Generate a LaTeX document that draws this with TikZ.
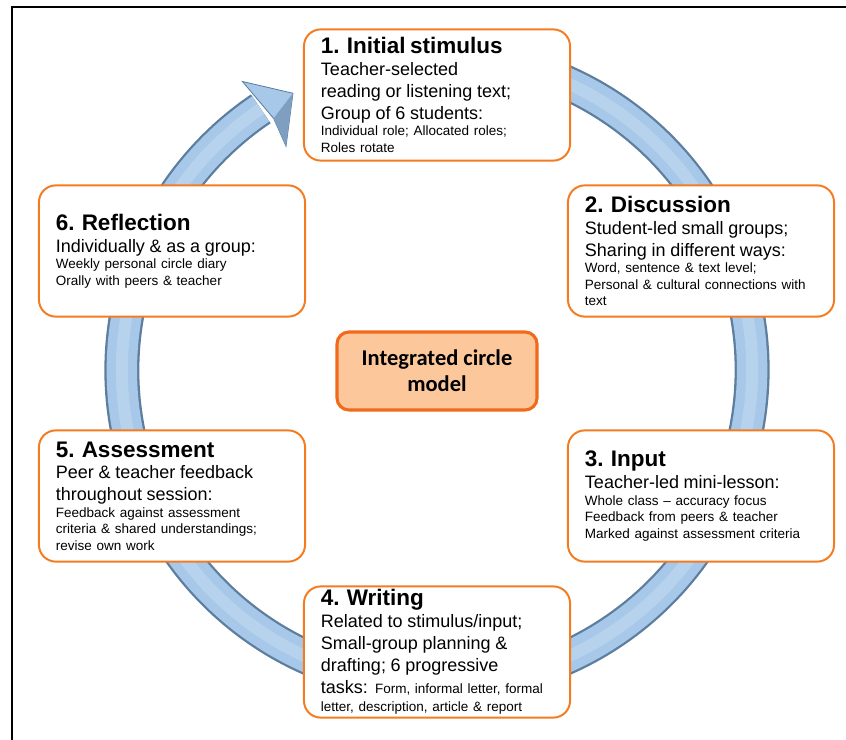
\documentclass[tikz,border=0pt]{standalone}
\usepackage{fontspec}
\setmainfont{Liberation Sans}
\newfontfamily\carlitofont{Carlito}
\usepackage{tikz}
\usetikzlibrary{calc}
\definecolor{stageorange}{HTML}{F47B20}
\definecolor{centreline}{HTML}{F06A1A}
\definecolor{centrefill}{HTML}{FCC89B}
\definecolor{tubeblue}{HTML}{A7C8E8}
\definecolor{tubedark}{HTML}{5E7EA0}
\definecolor{tubelight}{HTML}{D4E6F7}
\newcommand{\headsz}{\fontsize{16}{19}\selectfont\bfseries}
\newcommand{\bodysz}{\fontsize{12.8}{15.6}\selectfont}
\newcommand{\smallsz}{\fontsize{9.6}{11.7}\selectfont}
\tikzset{
  stage/.style={draw=stageorange, line width=1.4pt, fill=white, rounded corners=0.42cm,
    minimum width=6.65cm, minimum height=3.28cm, text width=5.8cm,
    inner xsep=0.425cm, inner ysep=0pt, align=left},
  centre/.style={draw=centreline, line width=2.2pt, fill=centrefill, rounded corners=0.3cm,
    minimum width=5cm, minimum height=1.95cm, align=center,
    font=\carlitofont\bfseries\fontsize{16}{18.5}\selectfont}
}

\begin{document}
\begin{tikzpicture}[x=0.025cm,y=0.025cm]
    \useasboundingbox (0,0) rectangle (846,-740);
    \draw[line width=1.3pt] (12,-740) -- (12,-7) -- (846,-7);

    % the cycle ring
    \coordinate (c) at (437,-370);
    \draw[tubedark, line width=0.875cm] ($(c)+(80:315)$) arc[start angle=80, end angle=-236, radius=7.875cm];
    \begin{scope}[shift={(-3,1)}]
        \draw[tubeblue, line width=0.76cm] ($(c)+(80:315)$) arc[start angle=80, end angle=-236, radius=7.875cm];
    \end{scope}
    \begin{scope}[shift={(-6,2)}]
        \draw[tubelight, line width=0.3cm, opacity=0.35] ($(c)+(80:315)$) arc[start angle=80, end angle=-236, radius=7.875cm];
    \end{scope}
    \fill[tubeblue, draw=tubedark, line width=0.6pt] ($(c)+(124:348)$) -- ($(c)+(117.5:312)$) -- ($(c)+(124:270)$) -- ($(c)+(123:300)$) -- cycle;
    \fill[tubedark!55!tubeblue] ($(c)+(117.5:312)$) -- ($(c)+(124:270)$) -- ($(c)+(123:300)$) -- cycle;

    % the six stages
    \node[stage] (stimulus) at (437,-95) {{\headsz 1. Initial stimulus\par}{\bodysz Teacher-selected\\ reading or listening text;\\ Group of 6 students:\par}{\smallsz Individual role; Allocated roles;\\ Roles rotate\par}};
    \node[stage] (discussion) at (701,-251) {{\headsz 2. Discussion\par}{\bodysz Student-led small groups;\\ Sharing in different ways:\par}{\smallsz Word, sentence \& text level;\\ Personal \& cultural connections with\\ text\par}};
    \node[stage] (input) at (701,-496) {{\headsz 3. Input\par}{\bodysz Teacher-led mini-lesson:\par}{\smallsz Whole class – accuracy focus\\ Feedback from peers \& teacher\\ Marked against assessment criteria\par}};
    \node[stage] (writing) at (437,-652) {{\headsz 4. Writing\par}{\bodysz Related to stimulus/input;\\ Small-group planning \&\\ drafting; 6 progressive\\ tasks: {\smallsz Form, informal letter, formal}\\[-2.8pt] {\smallsz letter, description, article \& report}\par}};
    \node[stage] (assessment) at (172,-496) {{\headsz 5. Assessment\par}{\bodysz Peer \& teacher feedback\\ throughout session:\par}{\smallsz Feedback against assessment\\ criteria \& shared understandings;\\ revise own work\par}};
    \node[stage] (reflection) at (172,-251) {{\headsz 6. Reflection\par}{\bodysz Individually \& as a group:\par}{\smallsz Weekly personal circle diary\\ Orally with peers \& teacher\par}};

    \node[centre] (model) at (437,-371) {Integrated circle\\ model};
\end{tikzpicture}
\end{document}
